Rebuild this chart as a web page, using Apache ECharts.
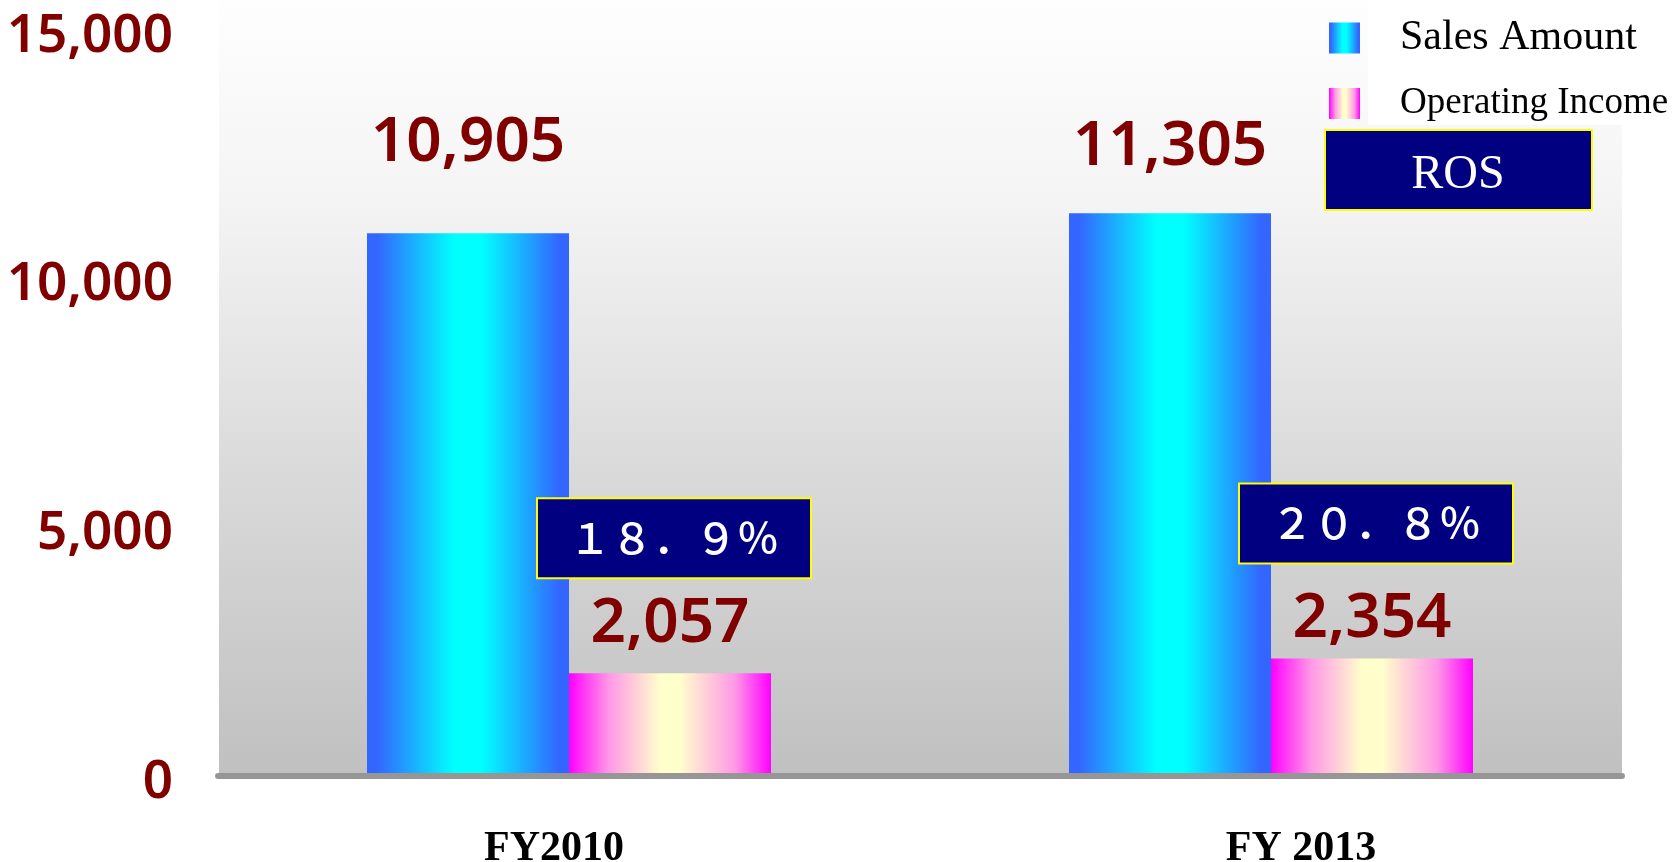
<!DOCTYPE html>
<html>
<head>
<meta charset="utf-8">
<script src="https://cdn.jsdelivr.net/npm/echarts@6/dist/echarts.min.js"></script>
<style>
  html, body { margin: 0; padding: 0; background: #ffffff; }
  #chart { width: 1679px; height: 862px; }
</style>
</head>
<body>
<div id="chart"></div>
<script>
// ---- data ----
const categories = ['FY2010', 'FY 2013'];
const salesAmount = [10905, 11305];
const operatingIncome = [2057, 2354];
const rosPercent = [18.9, 20.8];
const yTicks = [0, 5000, 10000, 15000];
const seriesNames = ['Sales Amount', 'Operating Income', 'ROS'];

// ---- helpers ----
const fmt = v => Number(v).toLocaleString('en-US');
const fullWidth = s => s.replace(/[0-9.%]/g, c => String.fromCharCode(c.charCodeAt(0) + 0xFEE0));

const salesGrad = new echarts.graphic.LinearGradient(0, 0, 1, 0, [
  { offset: 0, color: '#3366FF' },
  { offset: 0.05, color: '#3366FF' },
  { offset: 0.43, color: '#00FFFF' },
  { offset: 0.57, color: '#00FFFF' },
  { offset: 0.95, color: '#3366FF' },
  { offset: 1, color: '#3366FF' }
]);
const incomeGrad = new echarts.graphic.LinearGradient(0, 0, 1, 0, [
  { offset: 0, color: '#FF00FF' },
  { offset: 0.2, color: '#FF99E6' },
  { offset: 0.45, color: '#FFFFCC' },
  { offset: 0.55, color: '#FFFFCC' },
  { offset: 0.82, color: '#FF99E6' },
  { offset: 1, color: '#FF00FF' }
]);

const chart = echarts.init(document.getElementById('chart'), null, { renderer: 'canvas' });

const salesLabelDist = [59, 35];
const incomeLabelDist = [18, 8];
const catLabelPad = [[0, 30, 0, 0], [0, 0, 0, 60]];
const numFont = { fontFamily: 'Noto Sans', fontWeight: 600, color: '#800000' };

const option = {
  animation: false,
  backgroundColor: '#ffffff',
  grid: { left: 218, right: 57, top: 29.5, bottom: 86.5, containLabel: false, outerBoundsMode: 'none' },
  graphic: [
    {
      type: 'rect', z: -10, silent: true,
      shape: { x: 219, y: 0, width: 1403, height: 775 },
      style: {
        fill: new echarts.graphic.LinearGradient(0, 0, 0, 1, [
          { offset: 0, color: '#FEFEFE' },
          { offset: 0.26, color: '#F4F4F4' },
          { offset: 0.62, color: '#D9D9D9' },
          { offset: 1, color: '#C0C0C0' }
        ])
      }
    },
    {
      type: 'rect', z: -9, silent: true,
      shape: { x: 1368, y: 0, width: 311, height: 125 },
      style: { fill: '#ffffff' }
    },
    {
      type: 'group', z: 20, silent: true,
      children: [
        {
          type: 'rect',
          shape: { x: 1325, y: 130, width: 267, height: 80 },
          style: { fill: '#000080', stroke: '#FFFF00', lineWidth: 2 }
        },
        {
          type: 'text',
          style: {
            x: 1458, y: 175, text: seriesNames[2],
            fill: '#ffffff', font: '48px "Liberation Serif"',
            textAlign: 'center', textVerticalAlign: 'middle'
          }
        }
      ]
    }
  ],
  legend: [
    {
      data: [seriesNames[0]], left: 1329, top: 17, padding: 0,
      icon: 'rect', itemWidth: 31, itemHeight: 31, selectedMode: false,
      textStyle: { fontFamily: 'Liberation Serif', fontSize: 42, color: '#000', lineHeight: 9, padding: [22, 0, 0, 35] }
    },
    {
      data: [seriesNames[1]], left: 1329, top: 85, padding: 0,
      icon: 'rect', itemWidth: 31, itemHeight: 31, selectedMode: false,
      textStyle: { fontFamily: 'Liberation Serif', fontSize: 37, color: '#000', lineHeight: 29, padding: [0, 0, 2, 35] }
    }
  ],
  xAxis: {
    type: 'category',
    z: 5,
    data: categories.map((c, i) => ({ value: c, textStyle: { padding: catLabelPad[i] } })),
    axisLine: { show: true, lineStyle: { color: '#969696', width: 6, cap: 'round' } },
    axisTick: { show: false },
    splitLine: { show: false },
    axisLabel: {
      margin: 53, color: '#000', fontFamily: 'Liberation Serif', fontWeight: 'bold', fontSize: 42
    }
  },
  yAxis: {
    type: 'value',
    min: yTicks[0], max: yTicks[yTicks.length - 1], interval: yTicks[1] - yTicks[0],
    axisLine: { show: false },
    axisTick: { show: false },
    splitLine: { show: false },
    axisLabel: Object.assign({
      margin: 45, fontSize: 53, verticalAlign: 'top', lineHeight: 14,
      formatter: v => fmt(v)
    }, numFont)
  },
  series: [
    {
      name: seriesNames[0], type: 'bar', barWidth: 202, barGap: '0%',
      itemStyle: { color: salesGrad },
      label: Object.assign({
        show: true, position: 'top', fontSize: 62, lineHeight: 62,
        formatter: p => fmt(p.value)
      }, numFont),
      data: salesAmount.map((v, i) => ({ value: v, label: { distance: salesLabelDist[i] } }))
    },
    {
      name: seriesNames[1], type: 'bar', barWidth: 202, barGap: '0%',
      itemStyle: { color: incomeGrad },
      label: Object.assign({
        show: true, position: 'top', fontSize: 62, lineHeight: 62,
        formatter: p => fmt(p.value)
      }, numFont),
      data: operatingIncome.map((v, i) => ({ value: v, label: { distance: incomeLabelDist[i] } }))
    },
    {
      name: seriesNames[2], type: 'scatter', symbol: 'rect', symbolSize: 0, silent: true, z: 10,
      itemStyle: { opacity: 1 },
      label: {
        show: true, position: 'top', distance: 96, offset: [105, 0], opacity: 1,
        color: '#ffffff', fontFamily: 'Noto Sans CJK JP', fontWeight: 500, fontSize: 42, lineHeight: 40,
        backgroundColor: '#000080', borderColor: '#FFFF00', borderWidth: 2,
        padding: [19, 31, 19, 31],
        formatter: p => fullWidth(rosPercent[p.dataIndex].toFixed(1) + '%')
      },
      data: operatingIncome.slice()
    }
  ]
};

chart.setOption(option);
</script>
</body>
</html>
